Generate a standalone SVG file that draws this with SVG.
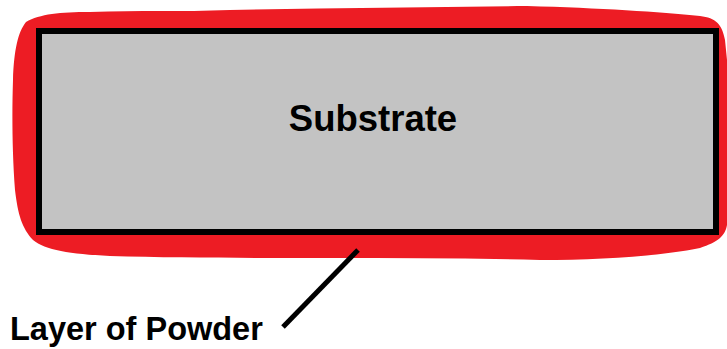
<svg xmlns="http://www.w3.org/2000/svg" width="727" height="349" viewBox="0 0 727 349">
<style>
.lbl{font-family:"Liberation Sans",Arial,sans-serif;font-weight:bold;fill:#000}
</style>
<rect width="727" height="349" fill="#fff"/>
<g id="powder">
<path d="M26,22 C40,14 60,12 90,12 C140,10 180,12 230,10 C330,8 430,7 527,6 C600,8 660,12 700,16 C716,18 722,24 725,40 L727,60 L727,225 C725,236 718,242 700,248 C660,256 600,260 540,260 C470,258 400,258 330,258 C260,258 180,258 110,256 C70,254 45,250 33,240 C22,228 18,215 15,190 C12,150 12,110 13,80 C14,50 18,32 26,22 Z" fill="#ED1C24"/>
</g>
<g id="substrate">
<rect x="39" y="31" width="677" height="201" fill="#C3C3C3" stroke="#000" stroke-width="6"/>
<text class="lbl" x="373" y="131" font-size="36.5" text-anchor="middle">Substrate</text>
</g>
<g id="connectors">
<line x1="358" y1="250" x2="283" y2="327" stroke="#000" stroke-width="5"/>
</g>
<g id="label">
<text class="lbl" x="10" y="340" font-size="32.5">Layer of Powder</text>
</g>
</svg>
